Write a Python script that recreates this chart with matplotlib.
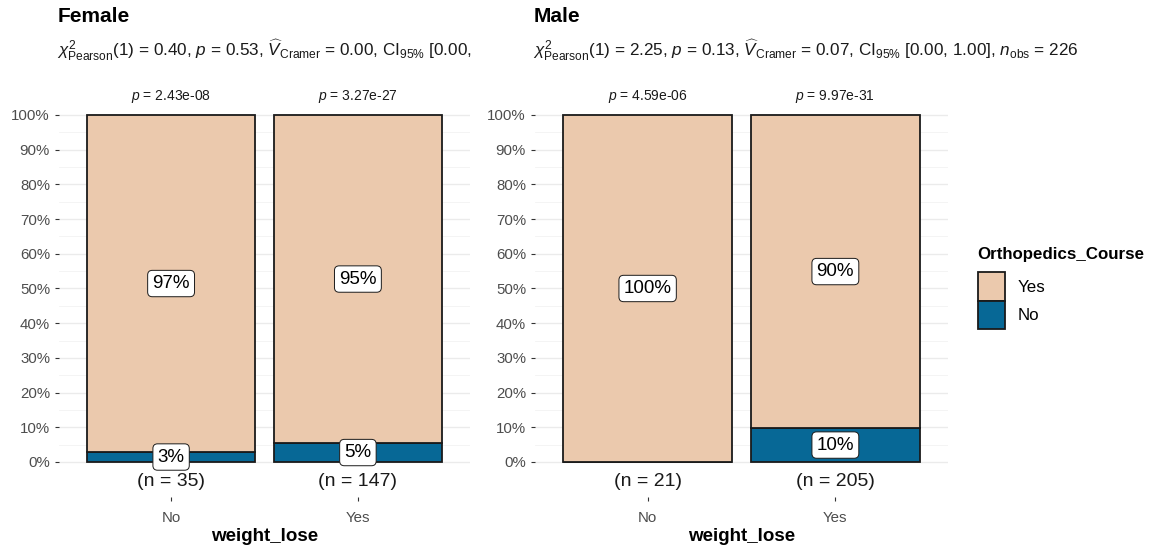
import matplotlib
matplotlib.use("Agg")
import matplotlib.pyplot as plt
import numpy as np
from matplotlib.patches import Patch
from matplotlib.transforms import Bbox, TransformedBbox

# data
groups = ["No", "Yes"]  # weight_lose
panels = ["Female", "Male"]
female_n = [35, 147]
female_no = [1, 8]  # Orthopedics_Course == "No"
male_n = [21, 205]
male_no = [0, 20]
female_p = ["2.43e-08", "3.27e-27"]
male_p = ["4.59e-06", "9.97e-31"]
female_stats = ["0.40", "0.53", "0.00", "0.00", "1.00"]
male_stats = ["2.25", "0.13", "0.07", "0.00", "1.00"]

YES_COL = "#EBC9AD"
NO_COL = "#076896"
W, H = 1151, 548

plt.rcParams["font.family"] = ["Liberation Sans", "DejaVu Sans"]
plt.rcParams["mathtext.fontset"] = "custom"
plt.rcParams["mathtext.rm"] = "Liberation Sans"
plt.rcParams["mathtext.it"] = "Liberation Sans:italic"

fig = plt.figure(figsize=(W / 100, H / 100), dpi=100)


def px_axes(x0, x1, top, bottom):
    return fig.add_axes([x0 / W, 1 - bottom / H, (x1 - x0) / W, (bottom - top) / H])


def draw(ax, n, no, pvals, stats, title, clip_right):
    n = np.array(n)
    no_frac = np.array(no) / n
    yes_frac = 1 - no_frac
    x = np.arange(1, len(groups) + 1)
    ax.bar(x, no_frac, width=0.9, color=NO_COL, edgecolor="#1a1a1a", lw=1.3,
           clip_on=False, zorder=2)
    ax.bar(x, yes_frac, bottom=no_frac, width=0.9, color=YES_COL,
           edgecolor="#1a1a1a", lw=1.3, clip_on=False, zorder=2)
    box = dict(boxstyle="round,pad=0.25,rounding_size=0.25", fc="white",
               ec="#1a1a1a", lw=0.7)
    for xi, nf, yf in zip(x, no_frac, yes_frac):
        ax.text(xi, nf + yf / 2, f"{round(yf * 100):.0f}%", ha="center",
                va="center", fontsize=13.5, bbox=box, zorder=5)
        if nf > 0:
            ax.text(xi, nf / 2, f"{round(nf * 100):.0f}%", ha="center",
                    va="center", fontsize=13.5, bbox=box, zorder=5)
    for xi, ni, p in zip(x, n, pvals):
        ax.text(xi, -0.057, f"(n = {ni})", ha="center", va="center",
                fontsize=14, color="#1a1a1a", clip_on=False)
        ax.text(xi, 1.052, f"$p$ = {p}", ha="center", va="center",
                fontsize=10, color="#1a1a1a")

    ax.set_xlim(0.4, 2.6)
    ax.set_ylim(-0.1009, 1.0778)
    ax.set_yticks(np.arange(0, 1.01, 0.1))
    ax.set_yticklabels([f"{v}%" for v in range(0, 101, 10)])
    ax.set_yticks(np.arange(0.05, 1.0, 0.1), minor=True)
    ax.set_xticks(x)
    ax.set_xticklabels(groups)
    ax.tick_params(axis="both", labelsize=10.8, labelcolor="#4D4D4D",
                   color="#333333", length=3, width=0.8)
    ax.tick_params(axis="x", pad=7)
    ax.tick_params(which="minor", length=0)
    ax.grid(axis="y", which="major", color="#EBEBEB", lw=1.0, zorder=0)
    ax.grid(axis="y", which="minor", color="#F3F3F3", lw=0.6, zorder=0)
    ax.set_axisbelow(True)
    for s in ax.spines.values():
        s.set_visible(False)
    ax.set_xlabel("weight_lose", fontsize=13.5, fontweight="bold", labelpad=2)

    pos = ax.get_position()
    fig.text(pos.x0 - 1 / W, 1 - 17 / H, title, fontsize=15, fontweight="bold",
             va="center", ha="left")
    sub = (r"$\chi^2_{\mathrm{Pearson}}$(1) = " + stats[0] + r", $\mathit{p}$ = " +
           stats[1] + r", $\widehat{\mathit{V}}_{\mathrm{Cramer}}$ = " + stats[2] +
           r", CI$_{95\%}$ [" + stats[3] + ", " + stats[4] +
           r"], $\mathit{n}_{\mathrm{obs}}$ = " + str(n.sum()))
    t = fig.text(pos.x0 - 2 / W, 1 - 50 / H, sub, fontsize=12.35, va="center",
                 ha="left", color="#1a1a1a")
    t.set_clip_box(TransformedBbox(Bbox([[0, 0], [clip_right / W, 1]]),
                                   fig.transFigure))
    t.set_clip_on(True)


ax1 = px_axes(59, 470, 88, 497)
draw(ax1, female_n, female_no, female_p, female_stats, panels[0], 476)
ax2 = px_axes(535, 948, 88, 497)
draw(ax2, male_n, male_no, male_p, male_stats, panels[1], W)

# legend: title as separate text so the gap above the keys matches
fig.text(977 / W, 1 - 255 / H, "Orthopedics_Course", fontsize=12.2,
         fontweight="bold", va="center", ha="left")
handles = [Patch(fc=YES_COL, ec="#1a1a1a", lw=1.3, label="Yes"),
           Patch(fc=NO_COL, ec="#1a1a1a", lw=1.3, label="No")]
leg = fig.legend(handles=handles, loc="upper left",
                 bbox_to_anchor=(963 / W, 1 - 257 / H), frameon=False,
                 fontsize=12.2, handlelength=1.6, handleheight=2.2,
                 handletextpad=0.7, labelspacing=0.0)

fig.savefig("out.png", dpi=100)
